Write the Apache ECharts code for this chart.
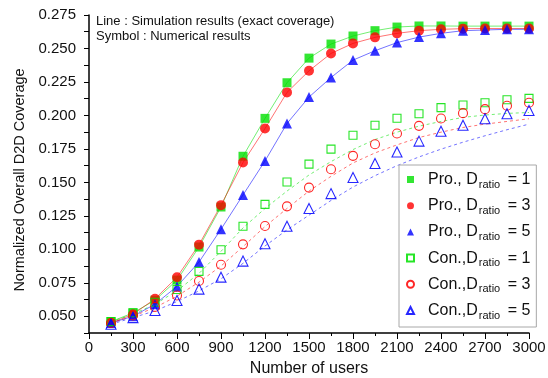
<!DOCTYPE html>
<html>
<head>
<meta charset="utf-8">
<script src="https://cdn.jsdelivr.net/npm/echarts@6/dist/echarts.min.js"></script>
<style>
  html, body { margin: 0; padding: 0; background: #fff; }
  #chart { width: 548px; height: 378px; }
</style>
</head>
<body>
<div id="chart"></div>
<script>
const users = [150, 300, 450, 600, 750, 900, 1050, 1200, 1350, 1500, 1650, 1800, 1950, 2100, 2250, 2400, 2550, 2700, 2850, 3000];

// numerical results (symbols)
const pro1 = [0.046, 0.0525, 0.062, 0.077, 0.1017, 0.1316, 0.1695, 0.1978, 0.2244, 0.2428, 0.2533, 0.2593, 0.2633, 0.266, 0.2668, 0.2668, 0.2667, 0.2667, 0.2667, 0.2667];
const pro3 = [0.045, 0.0515, 0.063, 0.0792, 0.1035, 0.133, 0.1648, 0.1902, 0.2172, 0.2333, 0.2463, 0.2538, 0.2583, 0.2613, 0.2633, 0.2643, 0.2648, 0.2649, 0.2649, 0.2649];
const pro5 = [0.045, 0.050, 0.059, 0.0723, 0.0905, 0.115, 0.1406, 0.166, 0.194, 0.2137, 0.2283, 0.2413, 0.2483, 0.2544, 0.2585, 0.2613, 0.2633, 0.2638, 0.2643, 0.2643];
const con1 = [0.046, 0.0526, 0.0605, 0.070, 0.0835, 0.0997, 0.1172, 0.1336, 0.1503, 0.1636, 0.1748, 0.1852, 0.1927, 0.1979, 0.2013, 0.2058, 0.2078, 0.2095, 0.2117, 0.2127];
const con3 = [0.045, 0.0506, 0.057, 0.0655, 0.0763, 0.0885, 0.1037, 0.1174, 0.1321, 0.1461, 0.1598, 0.1698, 0.1785, 0.1865, 0.1922, 0.1977, 0.2017, 0.2047, 0.2072, 0.2095];
const con5 = [0.044, 0.049, 0.0543, 0.0618, 0.0703, 0.0792, 0.0912, 0.1042, 0.1172, 0.1305, 0.1416, 0.1536, 0.1641, 0.1727, 0.1808, 0.1882, 0.1927, 0.1975, 0.2012, 0.2037];

// simulation results (lines); Pro lines follow the symbols
const simCon1 = [0.046, 0.0515, 0.059, 0.069, 0.082, 0.0985, 0.116, 0.1305, 0.1435, 0.1555, 0.1655, 0.1745, 0.182, 0.1875, 0.192, 0.1955, 0.1985, 0.2003, 0.2015, 0.2022];
const simCon3 = [0.045, 0.050, 0.0565, 0.065, 0.0755, 0.0875, 0.102, 0.117, 0.1305, 0.1435, 0.1545, 0.1645, 0.172, 0.178, 0.1835, 0.1875, 0.191, 0.1935, 0.1955, 0.1975];
const simCon5 = [0.044, 0.049, 0.054, 0.061, 0.069, 0.078, 0.0895, 0.1025, 0.1145, 0.1255, 0.1365, 0.1465, 0.155, 0.1625, 0.169, 0.1748, 0.18, 0.1848, 0.1893, 0.1935];

const legendNames = ['Pro., D|1', 'Pro., D|3', 'Pro., D|5', 'Con.,D|1', 'Con.,D|3', 'Con.,D|5'];

const GREEN = '#00e000';
const RED = '#ff0000';
const BLUE = '#0000ff';
const FONT = 'Liberation Sans';

const pairs = (ys) => users.map((x, i) => [x, ys[i]]);

function simLine(ys, color, dashed) {
  return {
    type: 'line',
    data: pairs(ys),
    showSymbol: false,
    silent: true,
    lineStyle: { color, width: 1, opacity: 0.55, type: dashed ? [3, 3] : 'solid' },
    z: 1,
  };
}

function points(name, ys, color, symbol, size, hollow) {
  return {
    type: 'scatter',
    name,
    data: pairs(ys),
    symbol,
    symbolSize: size,
    itemStyle: hollow
      ? { color: 'rgba(255,255,255,0)', borderColor: color, borderWidth: 1.1, opacity: 0.85 }
      : { color },
    z: 3,
  };
}

const chart = echarts.init(document.getElementById('chart'), null, { renderer: 'canvas' });

chart.setOption({
  backgroundColor: '#fff',
  animation: false,
  textStyle: { fontFamily: FONT },
  title: {
    text: 'Line : Simulation results (exact coverage)\nSymbol : Numerical results',
    left: 96,
    top: 14,
    padding: 0,
    textStyle: { fontFamily: FONT, fontSize: 13, fontWeight: 'normal', color: '#111', lineHeight: 15 },
  },
  grid: { left: 89, right: 19, top: 15, bottom: 45, outerBoundsMode: 'none' },
  legend: {
    orient: 'vertical',
    left: 399,
    top: 165,
    width: 147,
    padding: [4, 6, 6, 7],
    borderColor: '#a8a8a8',
    borderWidth: 1,
    backgroundColor: '#fff',
    itemWidth: 7,
    itemHeight: 7,
    itemGap: 5.2,
    data: legendNames,
    formatter: (name) => {
      const [lead, val] = name.split('|');
      return '{a|' + lead + '}{s|ratio}{a| = ' + val + '}';
    },
    textStyle: {
      color: '#111',
      padding: [0, 0, 0, 9],
      rich: {
        a: { fontFamily: FONT, fontSize: 16, color: '#111', lineHeight: 20 },
        s: { fontFamily: FONT, fontSize: 11, color: '#111', lineHeight: 20, padding: [10, 3, 0, 1] },
      },
    },
  },
  xAxis: {
    type: 'value',
    min: 0,
    max: 3000,
    interval: 300,
    name: 'Number of users',
    nameLocation: 'middle',
    nameGap: 28,
    nameTextStyle: { fontFamily: FONT, fontSize: 16, color: '#111' },
    axisLine: { onZero: false, lineStyle: { color: '#000', width: 1.5 } },
    axisTick: { length: 6, lineStyle: { color: '#000', width: 1 } },
    minorTick: { show: true, splitNumber: 2, length: 3, lineStyle: { color: '#000', width: 1 } },
    axisLabel: { fontFamily: FONT, fontSize: 15, color: '#111', margin: 7, formatter: (v) => String(v) },
    splitLine: { show: false },
  },
  yAxis: {
    type: 'value',
    min: 0.0375,
    max: 0.275,
    interval: 0.0125,
    name: 'Normalized Overall D2D Coverage',
    nameLocation: 'middle',
    nameGap: 62,
    nameTextStyle: { fontFamily: FONT, fontSize: 14.5, color: '#111', padding: [0, 12, 0, 0] },
    axisLine: { onZero: false, lineStyle: { color: '#000', width: 1.5 } },
    axisTick: { length: 5, lineStyle: { color: '#000', width: 1 } },
    axisLabel: {
      fontFamily: FONT,
      fontSize: 15,
      color: '#111',
      margin: 13,
      formatter: (v) => (Math.round(v * 10000) % 250 === 0 ? v.toFixed(3) : ''),
    },
    splitLine: { show: false },
  },
  series: [
    simLine(pro1, GREEN, false),
    simLine(pro3, RED, false),
    simLine(pro5, BLUE, false),
    simLine(simCon1, GREEN, true),
    simLine(simCon3, RED, true),
    simLine(simCon5, BLUE, true),
    points(legendNames[0], pro1, GREEN, 'rect', 9, false),
    points(legendNames[1], pro3, RED, 'circle', 10, false),
    points(legendNames[2], pro5, BLUE, 'triangle', 10, false),
    points(legendNames[3], con1, GREEN, 'rect', 8, true),
    points(legendNames[4], con3, RED, 'circle', 9, true),
    points(legendNames[5], con5, BLUE, 'triangle', 10, true),
  ],
});
</script>
</body>
</html>
